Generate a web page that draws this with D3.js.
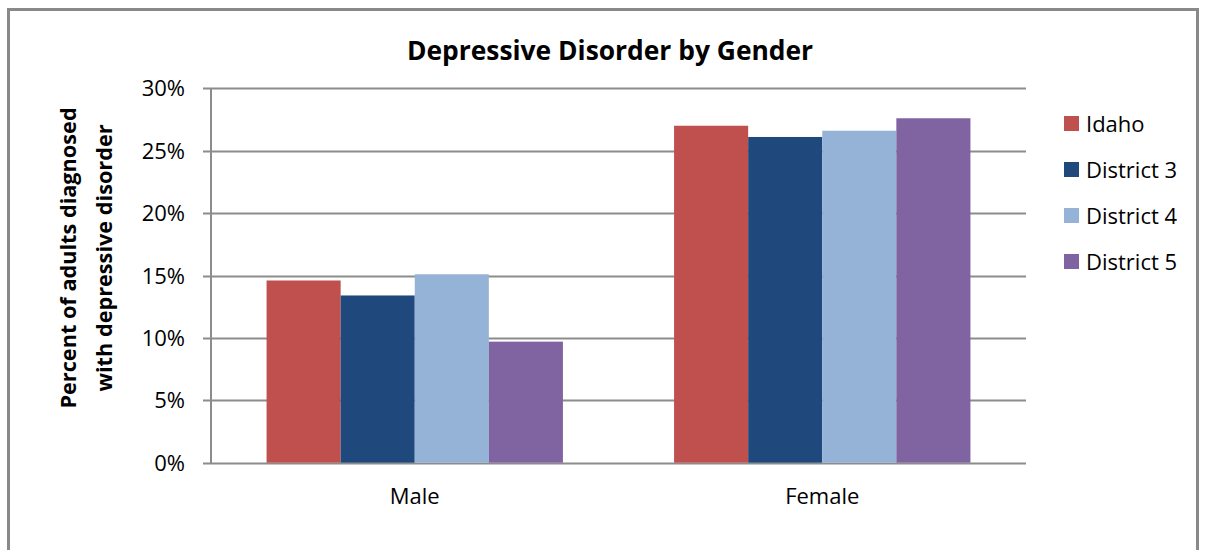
<!DOCTYPE html>
<html><head><meta charset="utf-8">
<script src="https://cdn.jsdelivr.net/npm/d3@7"></script>
<style>body{margin:0;background:#fff}svg{display:block}text{font-family:"Open Sans",sans-serif}</style>
</head><body><svg id="c" width="1205" height="550"></svg>
<script>
const categories = ["Male", "Female"];
const seriesNames = ["Idaho", "District 3", "District 4", "District 5"];
const seriesColors = ["#C0504D", "#1F497D", "#95B3D7", "#8064A2"];
const idaho = [14.6, 27.0];
const district3 = [13.4, 26.1];
const district4 = [15.1, 26.6];
const district5 = [9.7, 27.6];
const yTicks = [0, 5, 10, 15, 20, 25, 30];
const seriesValues = [idaho, district3, district4, district5];

const svg = d3.select("#c");
svg.append("rect").attr("x", 8.5).attr("y", 9.5).attr("width", 1189).attr("height", 560)
  .attr("fill", "#fff").attr("stroke", "#898989").attr("stroke-width", 3);

const L = 211, R = 1026, T = 88.3, B = 462.7;
const y = d3.scaleLinear().domain([0, 30]).range([B, T]);
const slot = (R - L) / categories.length;
const bw = slot / 5.5;
const x0 = d3.scaleBand().domain(categories).range([L, R]);
const x1 = d3.scaleBand().domain(seriesNames).range([0.75 * bw, 4.75 * bw]);

const g = svg.append("g");
g.selectAll("line.grid").data(yTicks).join("line")
  .attr("x1", L - 8).attr("x2", R).attr("y1", d => Math.round(y(d)) + 0.5).attr("y2", d => Math.round(y(d)) + 0.5)
  .attr("stroke", "#8c8c8c").attr("stroke-width", 2);

categories.forEach((c, ci) => {
  seriesNames.forEach((s, si) => {
    const v = seriesValues[si][ci];
    g.append("rect").attr("x", x0(c) + x1(s)).attr("y", y(v)).attr("width", x1.bandwidth())
      .attr("height", B - y(v)).attr("fill", seriesColors[si]);
  });
});

g.append("line").attr("x1", L).attr("x2", L).attr("y1", T).attr("y2", B + 1)
  .attr("stroke", "#8c8c8c").attr("stroke-width", 2);

g.selectAll("text.yt").data(yTicks).join("text")
  .attr("x", 185).attr("y", d => y(d) + 8).attr("text-anchor", "end")
  .attr("font-size", 22).attr("fill", "#000").text(d => d + "%");

categories.forEach((c) => {
  g.append("text").attr("x", x0(c) + x0.bandwidth() / 2).attr("y", 504).attr("text-anchor", "middle")
    .attr("font-size", 22).attr("fill", "#000").text(c);
});

svg.append("text").attr("x", 610).attr("y", 60).attr("text-anchor", "middle")
  .attr("font-size", 26.4).attr("font-weight", "bold").attr("fill", "#000").text("Depressive Disorder by Gender");

const yt = svg.append("text").attr("transform", "translate(0,258) rotate(-90)").attr("text-anchor", "middle")
  .attr("font-size", 21.7).attr("font-weight", "bold").attr("fill", "#000");
yt.append("tspan").attr("x", 0).attr("y", 76).text("Percent of adults diagnosed");
yt.append("tspan").attr("x", 0).attr("y", 112).text("with depressive disorder");

const lg = svg.append("g");
seriesNames.forEach((s, i) => {
  const ly = 124 + i * 46;
  lg.append("rect").attr("x", 1064).attr("y", ly - 8).attr("width", 15).attr("height", 15).attr("fill", seriesColors[i]);
  lg.append("text").attr("x", 1086).attr("y", ly + 8).attr("font-size", 22).attr("fill", "#000").text(s);
});
</script></body></html>
